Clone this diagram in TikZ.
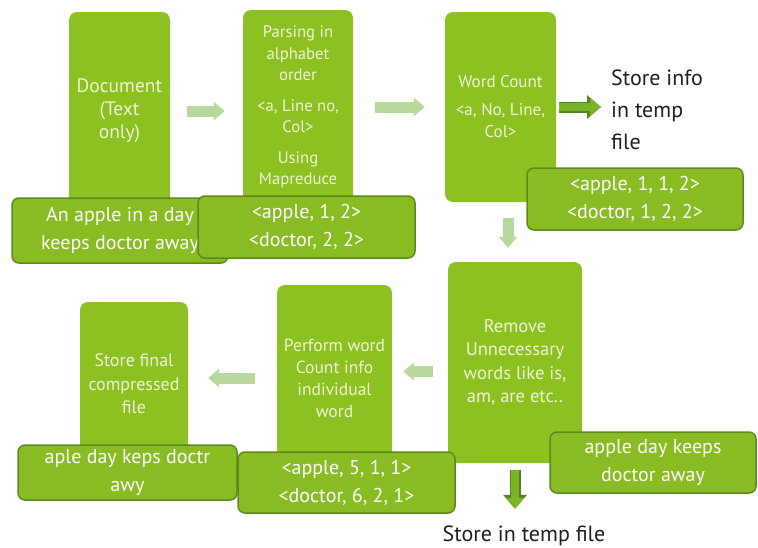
\documentclass[tikz,border=0pt]{standalone}
\usepackage{fontspec}
\setmainfont{PT Sans}
\usepackage{tikz}
\usetikzlibrary{arrows.meta}
\definecolor{boxgreen}{RGB}{141,193,33}
\definecolor{labgreen}{RGB}{137,188,35}
\definecolor{labline}{RGB}{92,137,30}
\definecolor{boxtext}{RGB}{240,245,214}
\definecolor{palegreen}{RGB}{184,216,158}
\definecolor{arrowfill}{RGB}{124,180,40}
\definecolor{arrowline}{RGB}{86,132,28}
\tikzstyle{process} = [rectangle, rounded corners=8pt, fill=boxgreen, text=boxtext, align=center, inner sep=0pt, font=\fontsize{17}{22}\selectfont]
\tikzstyle{result} = [rectangle, rounded corners=7pt, fill=labgreen, draw=labline, line width=1.5pt, text=white, align=center, inner sep=0pt, font=\fontsize{20}{28}\selectfont]
\tikzstyle{note} = [align=left, text=black!88, inner sep=0pt, font=\fontsize{22}{32}\selectfont]
\tikzstyle{arrow} = [line width=11pt, draw=palegreen, -{Triangle[length=11pt,width=18pt]}]
\tikzstyle{darrow} = [line width=8pt, draw=arrowfill, -{Triangle[length=11pt,width=18pt]}, preaction={draw=arrowline, line width=11pt, -{Triangle[length=14pt,width=23pt]}}]

\begin{document}
\begin{tikzpicture}[x=1pt,y=-1pt]
	\useasboundingbox (0,0) rectangle (758,547);
	% top row
	\node (pro1) [process, minimum width=101pt, minimum height=198pt, font=\fontsize{19.5}{23}\selectfont] at (119.5,111) {Document\\(Text\\only)};
	\node (pro2) [process, minimum width=110pt, minimum height=194pt, font=\fontsize{16.7}{21.5}\selectfont] at (298,107) {Parsing in\\alphabet\\order\\[9pt]<a, Line no,\\Col>\\[9pt]Using\\Mapreduce};
	\node (pro3) [process, minimum width=111pt, minimum height=190pt] at (500.5,107) {Word Count\\[6pt]<a, No, Line,\\Col>};
	\node (st1) [note, anchor=west] at (611,110) {Store info\\in temp\\file};
	% bottom row
	\node (pro4) [process, minimum width=134pt, minimum height=201pt, font=\fontsize{18.5}{23.5}\selectfont] at (515,362.5) {Remove\\Unnecessary\\words like is,\\am, are etc..};
	\node (pro5) [process, minimum width=115pt, minimum height=186pt, font=\fontsize{17.5}{22}\selectfont] at (334.5,378) {Perform word\\Count info\\individual\\word};
	\node (pro6) [process, minimum width=108pt, minimum height=164pt, font=\fontsize{18}{23.5}\selectfont] at (134,384) {Store final\\compressed\\file};
	\node (st2) [note] at (524,536) {Store in temp file};
	% data boxes
	\node (txt1) [result, minimum width=216pt, minimum height=65pt] at (120,230.5) {An apple in a day\\keeps doctor away};
	\node (txt2) [result, minimum width=217pt, minimum height=62pt] at (306.5,227) {<apple, 1, 2>\\<doctor, 2, 2>};
	\node (txt3) [result, minimum width=216pt, minimum height=62pt] at (635,199) {<apple, 1, 1, 2>\\<doctor, 1, 2, 2>};
	\node (txt4) [result, minimum width=206pt, minimum height=61pt] at (653,462.5) {apple day keeps\\doctor away};
	\node (txt6) [result, minimum width=219pt, minimum height=55pt] at (127.5,472.5) {aple day keps doctr\\awy};
	\node (txt5) [result, minimum width=217pt, minimum height=61pt] at (346.5,482.5) {<apple, 5, 1, 1>\\<doctor, 6, 2, 1>};
	\coordinate (c1) at ([xshift=7.5pt]pro3.south);
	\coordinate (c2) at ([yshift=-9pt]pro4.west);
	\draw [arrow, shorten <=17pt, shorten >=18pt] (pro1.east) -- (pro1.east -| pro2.west);
	\draw [arrow, shorten <=22pt, shorten >=20pt] (pro2.east) -- (pro2.east -| pro3.west);
	\draw [darrow, shorten <=3pt, shorten >=10pt] (pro3.east) -- (pro3.east -| st1.west);
	\draw [arrow, shorten <=16pt, shorten >=14pt] (c1) -- (c1 |- pro4.north);
	\draw [darrow, shorten <=7pt, shorten >=17pt] (pro4.south) -- (pro4.south |- st2.north);
	\draw [arrow, shorten <=15pt, shorten >=11pt] (c2) -- (c2 -| pro5.east);
	\draw [arrow, shorten <=22pt, shorten >=20pt] (pro5.west) -- (pro5.west -| pro6.east);
\end{tikzpicture}
\end{document}
